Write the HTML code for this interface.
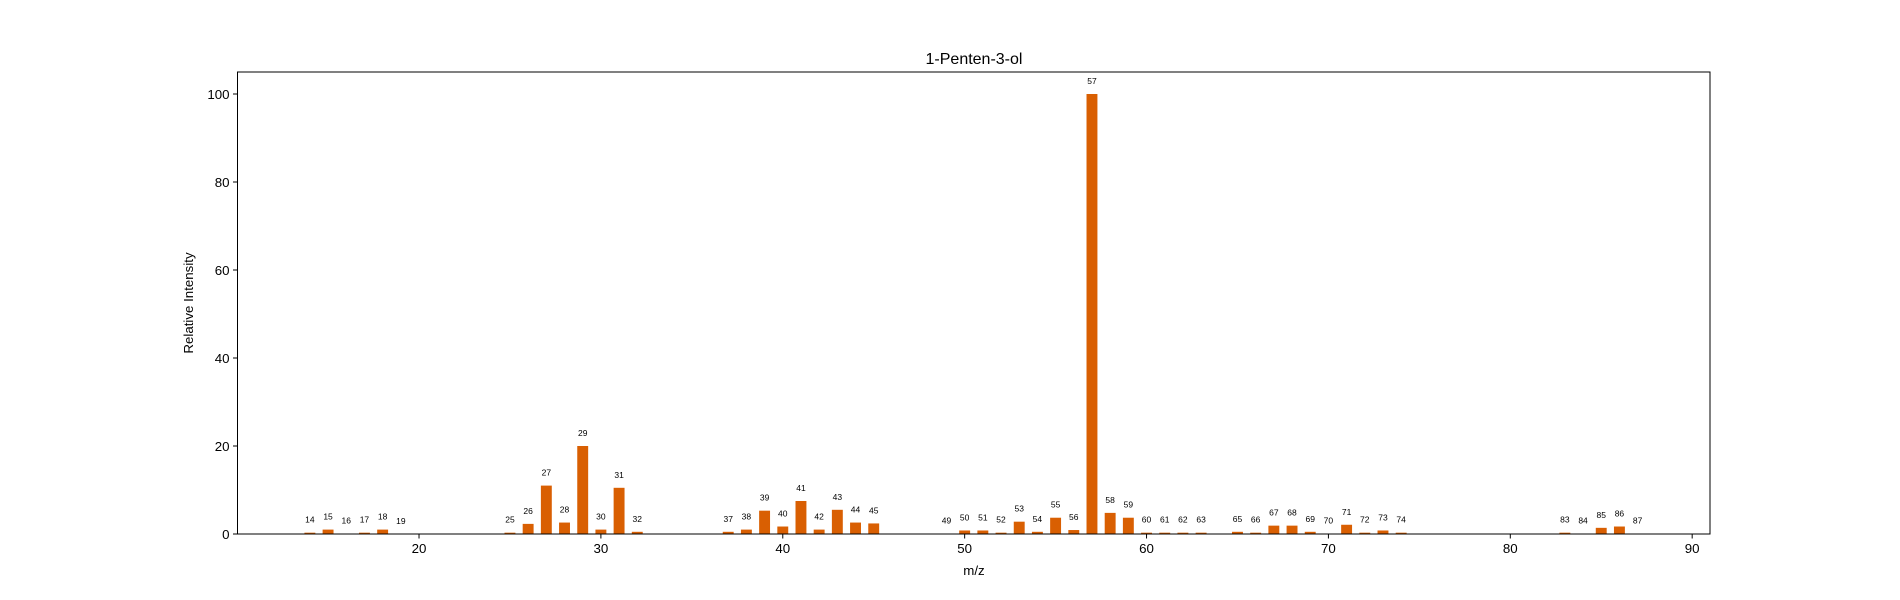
<!DOCTYPE html>
<html><head><meta charset="utf-8"><style>
body{margin:0;background:#fff;}
svg{display:block;font-family:"Liberation Sans","DejaVu Sans",sans-serif;}
</style></head><body>
<svg id="chart" width="1900" height="600">
<rect width="1900" height="600" fill="#fff"/>
<text x="974" y="64" font-size="16" text-anchor="middle">1-Penten-3-ol</text>
<g id="plot"></g>
<text x="974" y="575" font-size="13.3" text-anchor="middle">m/z</text>
<text x="0" y="0" font-size="13.3" text-anchor="middle" transform="translate(193,303) rotate(-90)">Relative Intensity</text>
</svg>
<script>
const mzValues=[14,15,16,17,18,19,25,26,27,28,29,30,31,32,37,38,39,40,41,42,43,44,45,49,50,51,52,53,54,55,56,57,58,59,60,61,62,63,65,66,67,68,69,70,71,72,73,74,83,84,85,86,87];
const intensities=[0.3,1.0,0.1,0.3,1.0,0.05,0.3,2.3,11,2.6,20,1.0,10.5,0.5,0.5,1.0,5.3,1.7,7.5,1.0,5.5,2.6,2.4,0.1,0.8,0.8,0.3,2.8,0.5,3.7,0.9,100,4.8,3.7,0.3,0.3,0.3,0.3,0.5,0.3,1.9,1.9,0.5,0.1,2.1,0.3,0.8,0.3,0.3,0.1,1.4,1.7,0.1];
const xTicks=[20,30,40,50,60,70,80,90];
const yTicks=[0,20,40,60,80,100];
const L=237.5,R=1710,T=72,B=534;
const xMin=10.02,xMax=90.98,yMin=0,yMax=105;
const sx=v=>L+(v-xMin)/(xMax-xMin)*(R-L);
const sy=v=>B-(v-yMin)/(yMax-yMin)*(B-T);
const NS="http://www.w3.org/2000/svg";
const g=document.getElementById('plot');
function mk(t,a){const e=document.createElementNS(NS,t);for(const k in a)e.setAttribute(k,a[k]);g.appendChild(e);return e;}
mzValues.forEach((m,i)=>{
  const v=intensities[i];
  const w=sx(0.6)-sx(0);
  const r=mk('rect',{x:sx(m-0.3),y:sy(v),width:w,height:sy(0)-sy(v),fill:'#d95f02'});
  
  
  const t=mk('text',{x:sx(m),y:sy(v)-10,'font-size':'8.5','text-anchor':'middle',fill:'#000'});
  t.textContent=m;
  
  
});
const frame=mk('rect',{x:L,y:T,width:R-L,height:B-T,fill:'none',stroke:'#000','stroke-width':1});


xTicks.forEach(v=>{
  const l=mk('line',{x1:sx(v),x2:sx(v),y1:B,y2:B+4.5,stroke:'#000'});
  
  
  const t=mk('text',{x:sx(v),y:B+19,'font-size':'13.3','text-anchor':'middle'});
  t.textContent=v;
  
  
});
yTicks.forEach(v=>{
  const l=mk('line',{x1:L-4.5,x2:L,y1:sy(v),y2:sy(v),stroke:'#000'});
  
  
  const t=mk('text',{x:L-8,y:sy(v)+5,'font-size':'13.3','text-anchor':'end'});
  t.textContent=v;
  
  
});
</script>
</body></html>
